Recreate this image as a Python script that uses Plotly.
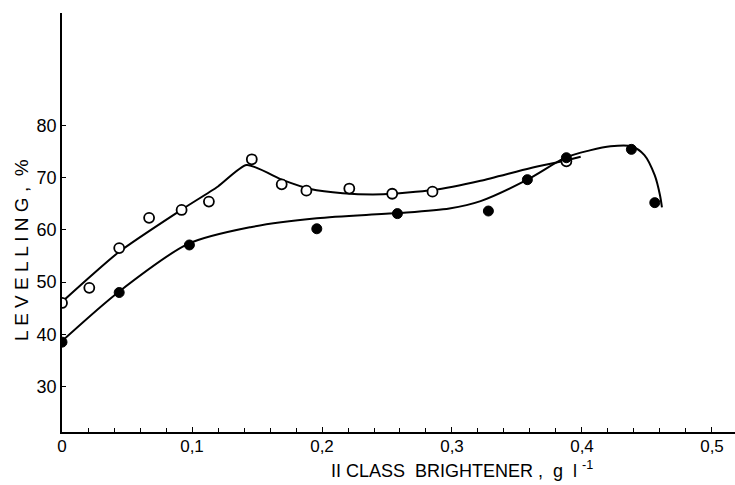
import plotly.graph_objects as go

# Measured points (x: brightener g/l, y: levelling %)
OPEN_X = [0.0, 0.021, 0.044, 0.067, 0.092, 0.113, 0.146, 0.169, 0.188, 0.221, 0.254, 0.285, 0.388]
OPEN_Y = [46.0, 48.9, 56.5, 62.3, 63.8, 65.4, 73.5, 68.7, 67.5, 67.9, 66.9, 67.3, 73.1]

FILLED_X = [0.0, 0.044, 0.098, 0.196, 0.258, 0.328, 0.358, 0.388, 0.438, 0.456]
FILLED_Y = [38.5, 48.0, 57.1, 60.2, 63.1, 63.6, 69.6, 73.8, 75.4, 65.2]

# Hand-drawn fitted curves
OPEN_CURVE_X = [0.0, 0.044, 0.091, 0.120, 0.142, 0.170, 0.191, 0.216, 0.247, 0.285, 0.322, 0.360, 0.388, 0.399]
OPEN_CURVE_Y = [46.2, 55.8, 63.7, 68.3, 72.4, 69.5, 67.8, 67.0, 66.8, 67.6, 69.4, 71.8, 73.3, 74.0]

FILLED_CURVE_X = [0.0, 0.044, 0.097, 0.145, 0.196, 0.258, 0.298, 0.322, 0.358, 0.388, 0.406, 0.422, 0.438, 0.448, 0.456, 0.460, 0.4615]
FILLED_CURVE_Y = [38.7, 48.2, 57.3, 60.5, 62.2, 63.2, 64.1, 65.5, 69.6, 73.9, 75.2, 76.0, 76.0, 74.3, 70.4, 66.6, 64.3]

X_TICKS = [0, 0.1, 0.2, 0.3, 0.4, 0.5]
X_TICK_TEXT = ["0", "0,1", "0,2", "0,3", "0,4", "0,5"]
Y_TICKS = [30, 40, 50, 60, 70, 80]

FONT = "Liberation Sans, Arial, sans-serif"

fig = go.Figure()
fig.add_trace(go.Scatter(x=OPEN_CURVE_X, y=OPEN_CURVE_Y, mode="lines",
                         line=dict(color="black", width=2, shape="spline", smoothing=0.6),
                         hoverinfo="skip"))
fig.add_trace(go.Scatter(x=FILLED_CURVE_X, y=FILLED_CURVE_Y, mode="lines",
                         line=dict(color="black", width=2, shape="spline", smoothing=0.8),
                         hoverinfo="skip"))
fig.add_trace(go.Scatter(x=OPEN_X, y=OPEN_Y, mode="markers",
                         marker=dict(symbol="circle", size=10, color="white",
                                     line=dict(color="black", width=1.8))))
fig.add_trace(go.Scatter(x=FILLED_X, y=FILLED_Y, mode="markers",
                         marker=dict(symbol="circle", size=10, color="black",
                                     line=dict(color="black", width=1))))

fig.update_layout(
    width=735, height=485,
    margin=dict(l=62, r=0, t=13, b=53),
    paper_bgcolor="white", plot_bgcolor="white",
    showlegend=False,
    font=dict(family=FONT, color="black", size=17),
    xaxis=dict(range=[0, 0.5177], showgrid=False, zeroline=False,
               showline=True, linecolor="black", linewidth=1.5,
               tickmode="array", tickvals=X_TICKS, ticktext=X_TICK_TEXT,
               ticks="inside", ticklen=5, tickwidth=1, tickcolor="black",
               minor=dict(dtick=0.02, ticks="inside", ticklen=4, tickwidth=1, tickcolor="black"),
               tickfont=dict(size=17), ticklabelstandoff=-2),
    yaxis=dict(range=[21.3, 101.5], showgrid=False, zeroline=False,
               showline=True, linecolor="black", linewidth=1.5,
               tickmode="array", tickvals=Y_TICKS,
               ticks="inside", ticklen=4, tickwidth=1, tickcolor="black",
               tickfont=dict(size=18)),
    annotations=[
        dict(text="II CLASS  BRIGHTENER ,  g  l <sup>-1</sup>", xref="paper", yref="paper",
             x=(462 - 62) / 673, y=-(470 - 432) / 419, xanchor="center", yanchor="middle",
             showarrow=False, font=dict(size=18)),
        dict(text="L E V E L L I N G ,  %", xref="paper", yref="paper",
             x=-(62 - 21) / 673, y=(432 - 250) / 419, xanchor="center", yanchor="middle",
             textangle=-90, showarrow=False, font=dict(size=19)),
    ],
)

fig.write_html("out.html")
